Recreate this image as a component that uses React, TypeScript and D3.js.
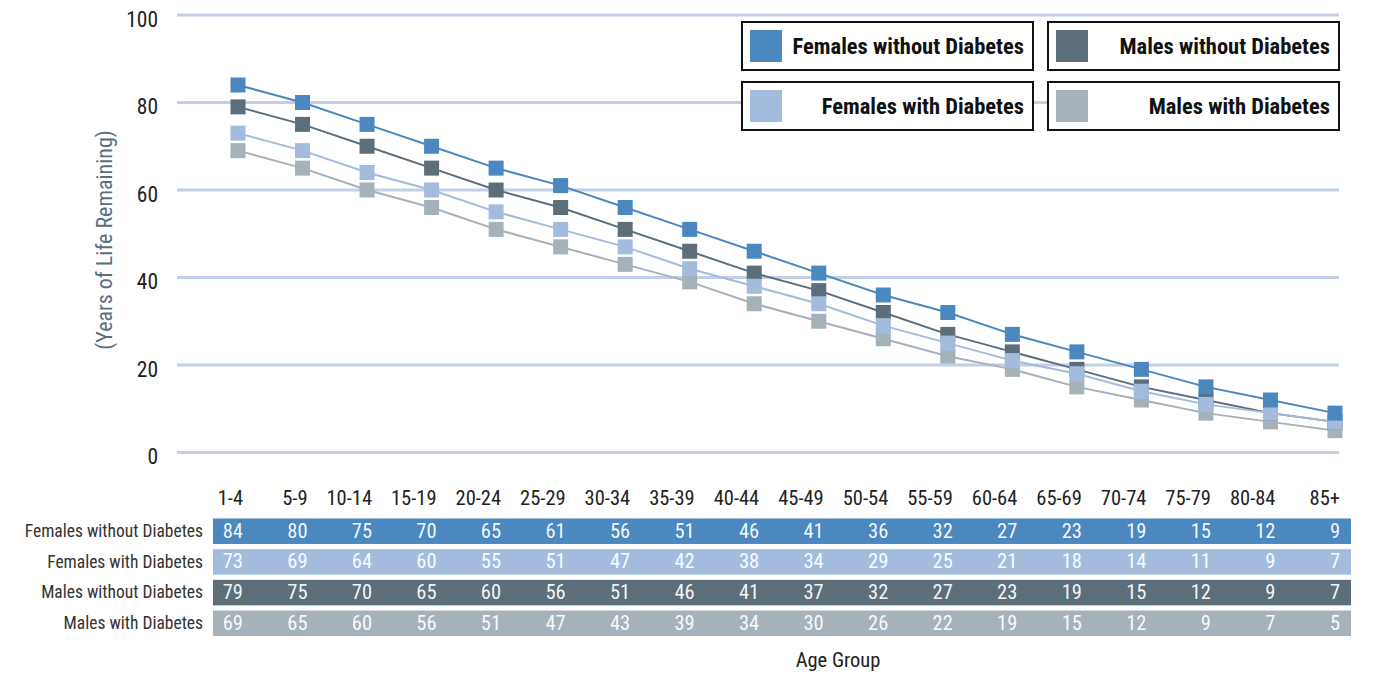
import React from 'react';
import * as d3 from 'd3';

// Age groups along the x axis and the table header
const ageGroups = ['1-4', '5-9', '10-14', '15-19', '20-24', '25-29', '30-34', '35-39', '40-44', '45-49', '50-54', '55-59', '60-64', '65-69', '70-74', '75-79', '80-84', '85+'];

// Years of life remaining per age group
const femalesWithout = [84, 80, 75, 70, 65, 61, 56, 51, 46, 41, 36, 32, 27, 23, 19, 15, 12, 9];
const femalesWith = [73, 69, 64, 60, 55, 51, 47, 42, 38, 34, 29, 25, 21, 18, 14, 11, 9, 7];
const malesWithout = [79, 75, 70, 65, 60, 56, 51, 46, 41, 37, 32, 27, 23, 19, 15, 12, 9, 7];
const malesWith = [69, 65, 60, 56, 51, 47, 43, 39, 34, 30, 26, 22, 19, 15, 12, 9, 7, 5];

const yTicks = [0, 20, 40, 60, 80, 100];

type Series = { name: string; values: number[]; color: string };

const FW: Series = { name: 'Females without Diabetes', values: femalesWithout, color: '#4a88bf' };
const FD: Series = { name: 'Females with Diabetes', values: femalesWith, color: '#a3bcdd' };
const MW: Series = { name: 'Males without Diabetes', values: malesWithout, color: '#5d6e7b' };
const MD: Series = { name: 'Males with Diabetes', values: malesWith, color: '#a6b2ba' };

// table row order, line drawing order (last on top), legend layout
const tableRows = [FW, FD, MW, MD];
const drawOrder = [MD, MW, FD, FW];
const legendGrid: Series[][] = [[FW, MW], [FD, MD]];

const FONT = '"Liberation Sans Narrow", "Roboto Condensed", Roboto, "Liberation Sans", sans-serif';

export default function App() {
  const W = 1376;
  const H = 676;
  const x = d3.scalePoint<string>().domain(ageGroups).range([238, 1335]);
  const y = d3.scaleLinear().domain([0, 100]).range([452.5, 15]);
  const gridX0 = 177;
  const gridX1 = 1339;

  const line = d3
    .line<number>()
    .x((_, i) => x(ageGroups[i]) as number)
    .y((d) => y(d));

  const marker = 15;

  const tableX0 = 213;
  const tableX1 = 1351;
  const rowTop = d3.scaleBand<number>().domain([0, 1, 2, 3]).range([518.5, 636]).paddingInner(0.17);

  const legendX = [742, 1048];
  const legendY = [22, 82];
  const legendW = 291;
  const legendH = 48;

  return (
    <svg
      width={W}
      height={H}
      style={{ position: 'absolute', left: 0, top: 0, background: '#fff' }}
      fontFamily={FONT}
    >
      {/* horizontal gridlines */}
      {yTicks.map((t) => (
        <line key={'g' + t} x1={gridX0} x2={gridX1} y1={y(t)} y2={y(t)} stroke="#c3cfe6" strokeWidth={3} />
      ))}
      {/* y tick labels */}
      {yTicks.map((t) => (
        <text key={'t' + t} x={158} y={y(t) + 6} textAnchor="end" dominantBaseline="middle" fontSize={21.5} fill="#222">
          {t}
        </text>
      ))}
      {/* y axis title */}
      <text
        transform={`translate(106,240) rotate(-90)`}
        textAnchor="middle"
        dominantBaseline="middle"
        fontSize={22}
        fill="#5b6f7d"
      >
        (Years of Life Remaining)
      </text>

      {/* series lines and square markers */}
      {drawOrder.map((s) => (
        <g key={s.name}>
          <path d={line(s.values) || ''} fill="none" stroke={s.color} strokeWidth={2} />
          {s.values.map((v, i) => (
            <rect
              key={i}
              x={(x(ageGroups[i]) as number) - marker / 2}
              y={y(v) - marker / 2}
              width={marker}
              height={marker}
              fill={s.color}
            />
          ))}
        </g>
      ))}

      {/* legend */}
      {legendGrid.map((row, r) =>
        row.map((s, c) => (
          <g key={s.name} transform={`translate(${legendX[c]},${legendY[r]})`}>
            <rect x={0} y={0} width={legendW} height={legendH} fill="#fff" stroke="#111" strokeWidth={2} />
            <rect x={8} y={8} width={32} height={32} fill={s.color} />
            <text
              x={legendW - 9}
              y={legendH / 2 + 2.5}
              textAnchor="end"
              dominantBaseline="middle"
              fontSize={22.5}
              fontWeight="bold"
              fill="#111"
            >
              {s.name}
            </text>
          </g>
        ))
      )}

      {/* data table header */}
      {ageGroups.map((g) => (
        <text
          key={'h' + g}
          x={(x(g) as number) + 5}
          y={500}
          textAnchor="end"
          dominantBaseline="middle"
          fontSize={20.5}
          fill="#222"
        >
          {g}
        </text>
      ))}

      {/* data table rows */}
      {tableRows.map((s, r) => {
        const top = rowTop(r) as number;
        const h = rowTop.bandwidth();
        return (
          <g key={'row' + s.name}>
            <text
              x={203}
              y={top + h / 2 + 1}
              textAnchor="end"
              dominantBaseline="middle"
              fontSize={17.5}
              fill="#333"
            >
              {s.name}
            </text>
            <rect x={tableX0} y={top} width={tableX1 - tableX0} height={h} fill={s.color} />
            {s.values.map((v, i) => (
              <text
                key={i}
                x={(x(ageGroups[i]) as number) + 5}
                y={top + h / 2 + 1}
                textAnchor="end"
                dominantBaseline="middle"
                fontSize={20.5}
                fill="#fff"
                fillOpacity={0.95}
              >
                {v}
              </text>
            ))}
          </g>
        );
      })}

      {/* x axis title */}
      <text x={838} y={662} textAnchor="middle" dominantBaseline="middle" fontSize={20.5} fill="#222">
        Age Group
      </text>
    </svg>
  );
}
